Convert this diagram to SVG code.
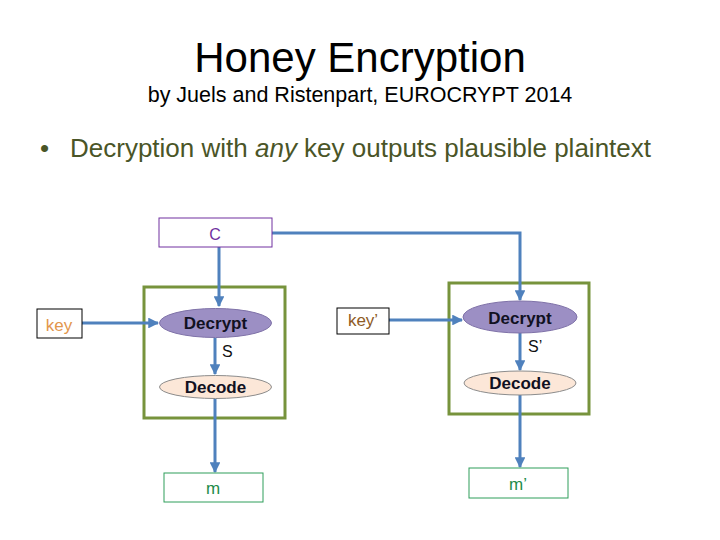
<svg xmlns="http://www.w3.org/2000/svg" width="720" height="540" viewBox="0 0 720 540">
<style>
text{font-family:"Liberation Sans",Arial,sans-serif}
.conn{fill:none;stroke:#4F81BD;stroke-width:3}
.frame{fill:none;stroke:#77933C;stroke-width:3}
.dec{fill:#9C8FC4;stroke:#7F72A8;stroke-width:1}
.dcd{fill:#FCE7D8;stroke:#8C8C8C;stroke-width:1}
.lbl{font-size:17px;font-weight:bold;fill:#111122;text-anchor:middle}
.box{fill:#fff}
</style>
<defs>
<marker id="ah" viewBox="0 0 10 10" refX="9" refY="5" markerWidth="3.6" markerHeight="3.6" orient="auto" markerUnits="strokeWidth">
<path d="M0,0 L10,5 L0,10 z" fill="#4F81BD"/>
</marker>
</defs>
<rect width="720" height="540" fill="#fff"/>
<g id="title">
<text x="360" y="72" font-size="42" text-anchor="middle" fill="#000">Honey Encryption</text>
<text x="360" y="102" font-size="21.5" text-anchor="middle" fill="#000">by Juels and Ristenpart, EUROCRYPT 2014</text>
<text x="40" y="157" font-size="26" fill="#4A5527">•</text>
<text x="70" y="157" font-size="26" fill="#4A5527">Decryption with <tspan font-style="italic">any</tspan> key outputs plausible plaintext</text>
</g>
<g id="frame-left"><rect class="frame" x="144" y="287" width="141" height="131"/></g>
<g id="frame-right"><rect class="frame" x="449" y="283" width="140" height="131"/></g>
<g id="connectors">
<path class="conn" d="M219,247 V306" marker-end="url(#ah)"/>
<path class="conn" d="M272,233 H520 V300" marker-end="url(#ah)"/>
<path class="conn" d="M82,323 H158" marker-end="url(#ah)"/>
<path class="conn" d="M215,338 V374" marker-end="url(#ah)"/>
<path class="conn" d="M215,399 V472" marker-end="url(#ah)"/>
<path class="conn" d="M389,320 H462" marker-end="url(#ah)"/>
<path class="conn" d="M520,333 V370" marker-end="url(#ah)"/>
<path class="conn" d="M520,395 V467" marker-end="url(#ah)"/>
</g>
<g id="node-c">
<rect class="box" x="159" y="218" width="113" height="29" stroke="#7030A0" stroke-width="1"/>
<text x="215" y="240" font-size="16" text-anchor="middle" fill="#7030A0">C</text>
</g>
<g id="node-key">
<rect class="box" x="37" y="309" width="45" height="29" stroke="#000" stroke-width="1"/>
<text x="59" y="331" font-size="17" text-anchor="middle" fill="#E2964C">key</text>
</g>
<g id="node-decrypt-left">
<ellipse class="dec" cx="215.5" cy="323" rx="56" ry="14.5"/>
<text class="lbl" x="215.5" y="329">Decrypt</text>
</g>
<g id="label-s"><text x="222" y="357" font-size="16" fill="#111">S</text></g>
<g id="node-decode-left">
<ellipse class="dcd" cx="215.5" cy="387" rx="56" ry="11.5"/>
<text class="lbl" x="215.5" y="393">Decode</text>
</g>
<g id="node-m">
<rect class="box" x="164" y="473" width="99" height="29" stroke="#2E9E5A" stroke-width="1"/>
<text x="213" y="494" font-size="17" text-anchor="middle" fill="#1E8C4A">m</text>
</g>
<g id="node-key2">
<rect class="box" x="337" y="308" width="52" height="26" stroke="#000" stroke-width="1"/>
<text x="363" y="326" font-size="17" text-anchor="middle" fill="#8E5B26">key’</text>
</g>
<g id="node-decrypt-right">
<ellipse class="dec" cx="520" cy="317" rx="57" ry="16"/>
<text class="lbl" x="520" y="324">Decrypt</text>
</g>
<g id="label-s2"><text x="528" y="352" font-size="16" fill="#111">S’</text></g>
<g id="node-decode-right">
<ellipse class="dcd" cx="520" cy="383" rx="56" ry="12"/>
<text class="lbl" x="520" y="389">Decode</text>
</g>
<g id="node-m2">
<rect class="box" x="469" y="468" width="99" height="30" stroke="#2E9E5A" stroke-width="1"/>
<text x="518" y="490" font-size="17" text-anchor="middle" fill="#1E8C4A">m’</text>
</g>
</svg>
